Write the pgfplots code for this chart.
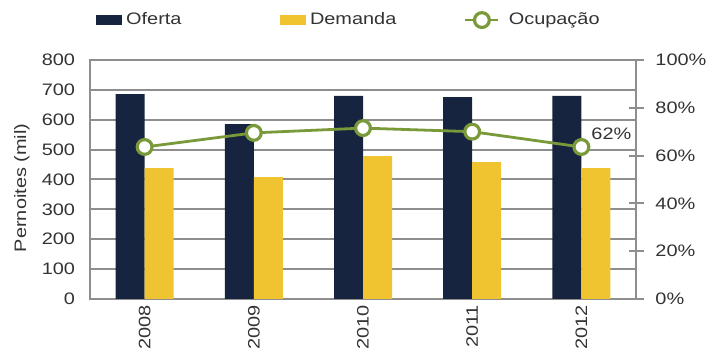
\documentclass[border=0pt]{standalone}
\usepackage{pgfplots}
\pgfplotsset{compat=1.18}
\usepackage{fontspec}
\setmainfont{Liberation Sans}[FakeStretch=1.2]
\definecolor{navy}{HTML}{17243F}
\definecolor{gold}{HTML}{F0C330}
\definecolor{olive}{HTML}{7A9A3A}
\definecolor{gridg}{HTML}{8E8E8E}
\definecolor{txt}{HTML}{333333}
\begin{document}
\fontsize{8.3}{10}\selectfont
\begin{tikzpicture}
\begin{axis}[
  name=ax,
  scale only axis, width=273pt, height=119.5pt,
  xmin=-0.5, xmax=4.5, ymin=0, ymax=800,
  ybar=0pt, bar width=14.5pt,
  xtick={0,1,2,3,4}, xticklabels={2008,2009,2010,2011,2012},
  x tick label style={rotate=90, anchor=east, font=\fontsize{8.3}{10}\selectfont, text=txt},
  ytick={0,100,...,800},
  y tick label style={font=\fontsize{8.3}{10}\selectfont, text=txt, xshift=-4.5pt},
  major tick length=0pt,
  ymajorgrids, major grid style={gridg, line width=1pt},
  axis line style={gridg, line width=1pt},
  /pgf/number format/assume math mode=true,
  ylabel={Pernoites (mil)},
  ylabel style={at={(axis description cs:-0.125,0.465)}, anchor=center, font=\fontsize{8.3}{10}\selectfont, text=txt},
]
\addplot[fill=navy, draw=none] coordinates {(0,686) (1,585) (2,680) (3,676) (4,680)};
\addplot[fill=gold, draw=none] coordinates {(0,438) (1,408) (2,478) (3,458) (4,438)};
\end{axis}
\begin{axis}[
  scale only axis, width=273pt, height=119.5pt,
  xmin=-0.5, xmax=4.5, ymin=0, ymax=100,
  axis x line=none, axis y line*=right,
  ytick={0,20,...,100},
  yticklabel={\pgfmathprintnumber{\tick}\%},
  y tick label style={font=\fontsize{8.3}{10}\selectfont, text=txt, xshift=3pt},
  tick align=center, major tick length=7.5pt,
  tick style={gridg, line width=1pt},
  axis line style={gridg, line width=1pt},
  /pgf/number format/assume math mode=true,
  legend columns=3,
  legend style={at={(0,1.167)}, anchor=west, draw=none, fill=none,
    font=\fontsize{8.3}{10}\selectfont, text=txt,
    nodes={text width=75pt, align=left},
    /tikz/every even column/.append style={column sep=0pt}},
]
\addlegendimage{legend image code/.code={\fill[navy] (0pt,-2.2pt) rectangle (12.5pt,2.2pt);}}
\addlegendentry{Oferta}
\addlegendimage{legend image code/.code={\fill[gold] (0pt,-2.2pt) rectangle (12.5pt,2.2pt);}}
\addlegendentry{Demanda}
\addplot[olive, line width=1.4pt, mark=*, mark options={fill=white, draw=olive, line width=1.6pt}, mark size=3.7pt,
  legend image code/.code={\draw[olive, line width=1.4pt] (0pt,0pt) -- (16.5pt,0pt);
    \draw[olive, line width=1.6pt, fill=white] (8.25pt,0pt) circle (3.7pt);
    \path (19pt,0pt);}]
  coordinates {(0,63.6) (1,69.5) (2,71.5) (3,70) (4,63.6)};
\addlegendentry{Ocupação}
\node[text=txt, font=\fontsize{8.3}{10}\selectfont] at (axis cs:4,63.6) [xshift=15pt, yshift=6.5pt] {62\%};
\end{axis}
\pgfresetboundingbox
\path ([shift={(-45pt,-27.5pt)}]ax.south west) rectangle ([shift={(35.5pt,30pt)}]ax.north east);
\end{tikzpicture}
\end{document}
